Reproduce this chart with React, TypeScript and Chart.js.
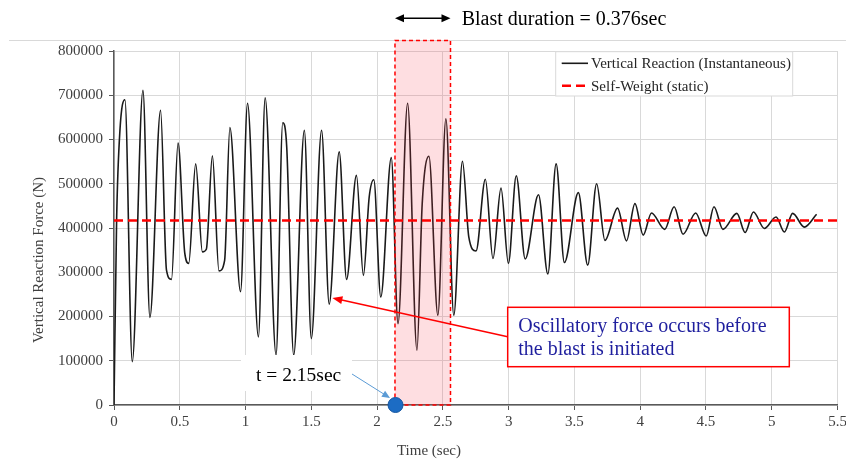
import React, { useEffect, useRef } from "react";
import { Chart, registerables } from "chart.js";

Chart.register(...registerables);

// ---- data ----
const reactionTimes = [
  0, 0.02, 0.045, 0.083, 0.139, 0.22, 0.273, 0.354, 0.399, 0.437, 0.487, 0.538, 0.568, 0.621, 0.672, 0.702, 0.748, 0.798, 0.841, 0.881, 0.962,
  1.015, 1.098, 1.149, 1.232, 1.283, 1.313, 1.366, 1.447, 1.5, 1.578, 1.636, 1.712, 1.768, 1.843, 1.896, 1.94, 1.975,
  2.028, 2.108, 2.159, 2.232, 2.303, 2.343, 2.394, 2.462, 2.523, 2.583, 2.649, 2.697, 2.752, 2.823, 2.881, 2.942, 2.998,
  3.058, 3.126, 3.227, 3.298, 3.361, 3.424, 3.53, 3.601, 3.669, 3.732, 3.828, 3.896, 3.96,
  4.023, 4.086, 4.187, 4.258, 4.326, 4.422, 4.502, 4.561, 4.629, 4.735, 4.798, 4.861, 4.944, 5.033, 5.096, 5.159, 5.248, 5.341,
];
const reactionForces = [
  0, 420000, 620000, 690000, 98000, 711000, 198000, 666000, 305000, 284000, 592000, 343000, 320000, 545000, 346000, 352000, 563000, 303000, 327000, 627000, 256000,
  682000, 154000, 694000, 113000, 638000, 583000, 113000, 621000, 150000, 621000, 228000, 572000, 284000, 519000, 293000, 470000, 509000,
  244000, 559000, 184000, 682000, 124000, 455000, 562000, 203000, 647000, 203000, 551000, 380000, 348000, 510000, 331000, 490000, 320000,
  518000, 330000, 475000, 296000, 545000, 322000, 480000, 316000, 500000, 372000, 445000, 371000, 455000,
  384000, 434000, 397000, 448000, 386000, 434000, 382000, 448000, 397000, 433000, 390000, 436000, 399000, 425000, 391000, 433000, 402000, 431000,
];
const selfWeightTimes = [0, 5.5];
const selfWeightForces = [417000, 417000];
const timeRange = [0, 5.5];
const forceRange = [0, 800000];
const timeStep = 0.5;
const forceStep = 100000;
const blastWindow = [2.136, 2.558];
const blastMarkerTimes = [2.14];
const blastMarkerForces = [0];
const calloutTarget = [1.66, 242000];

const seriesLabels = ["Vertical Reaction (Instantaneous)", "Self-Weight (static)"];
const xTitle = "Time (sec)";
const yTitle = "Vertical Reaction Force (N)";
const topNote = "Blast duration = 0.376sec";
const markerNote = "t = 2.15sec";
const calloutLines = ["Oscillatory force occurs before", "the blast is initiated"];

const SERIF = '"Liberation Serif", "Times New Roman", "DejaVu Serif", serif';

function arrowHead(ctx: CanvasRenderingContext2D, x1: number, y1: number, x2: number, y2: number, len: number, half: number, color: string) {
  const a = Math.atan2(y2 - y1, x2 - x1);
  ctx.save();
  ctx.fillStyle = color;
  ctx.beginPath();
  ctx.moveTo(x2, y2);
  ctx.lineTo(x2 - len * Math.cos(a) + half * Math.sin(a), y2 - len * Math.sin(a) - half * Math.cos(a));
  ctx.lineTo(x2 - len * Math.cos(a) - half * Math.sin(a), y2 - len * Math.sin(a) + half * Math.cos(a));
  ctx.closePath();
  ctx.fill();
  ctx.restore();
}

export default function App() {
  const ref = useRef<HTMLCanvasElement>(null);

  useEffect(() => {
    document.body.style.margin = "0";
    const canvas = ref.current!;

    const annot = {
      id: "annot",
      beforeDraw(chart: any) {
        const ctx: CanvasRenderingContext2D = chart.ctx;
        ctx.save();
        ctx.strokeStyle = "#d9d9d9";
        ctx.lineWidth = 1;
        ctx.beginPath();
        ctx.moveTo(9, 40.5);
        ctx.lineTo(846, 40.5);
        ctx.stroke();
        ctx.restore();
      },
      afterDatasetDraw(chart: any, args: any) {
        if (args.index !== 0) return;
        const ctx: CanvasRenderingContext2D = chart.ctx;
        const xs = chart.scales.x;
        const ys = chart.scales.y;
        const l = xs.getPixelForValue(blastWindow[0]);
        const r = xs.getPixelForValue(blastWindow[1]);
        const b = ys.getPixelForValue(0);
        const t = 40.5;
        ctx.save();
        ctx.fillStyle = "rgba(250, 60, 80, 0.17)";
        ctx.fillRect(l, t, r - l, b - t);
        ctx.strokeStyle = "#ff0000";
        ctx.lineWidth = 1.5;
        ctx.setLineDash([4, 3]);
        ctx.strokeRect(l, t, r - l, b - t);
        ctx.restore();
      },
      afterDraw(chart: any) {
        const ctx: CanvasRenderingContext2D = chart.ctx;
        const xs = chart.scales.x;
        const ys = chart.scales.y;
        ctx.save();

        // top note with double arrow
        const l = xs.getPixelForValue(blastWindow[0]);
        const r = xs.getPixelForValue(blastWindow[1]);
        ctx.strokeStyle = "#000";
        ctx.lineWidth = 1.5;
        ctx.beginPath();
        ctx.moveTo(l + 6, 18.3);
        ctx.lineTo(r - 6, 18.3);
        ctx.stroke();
        arrowHead(ctx, r, 18.3, l, 18.3, 9, 4, "#000");
        arrowHead(ctx, l, 18.3, r, 18.3, 9, 4, "#000");
        ctx.fillStyle = "#000";
        ctx.font = `20px ${SERIF}`;
        ctx.textBaseline = "alphabetic";
        ctx.textAlign = "left";
        ctx.fillText(topNote, 461.7, 25);

        // t = 2.15sec label with white background
        ctx.fillStyle = "#fff";
        ctx.fillRect(241, 355, 111, 36);
        ctx.fillStyle = "#000";
        ctx.font = `19.5px ${SERIF}`;
        ctx.fillText(markerNote, 256, 381);
        const mx = xs.getPixelForValue(blastMarkerTimes[0]);
        const my = ys.getPixelForValue(blastMarkerForces[0]);
        ctx.strokeStyle = "#5b9bd5";
        ctx.lineWidth = 1;
        ctx.beginPath();
        ctx.moveTo(352, 374);
        ctx.lineTo(mx - 7, my - 8);
        ctx.stroke();
        arrowHead(ctx, 352, 374, mx - 5.5, my - 7, 8, 3.5, "#5b9bd5");

        // callout arrow
        const tx = xs.getPixelForValue(calloutTarget[0]);
        const ty = ys.getPixelForValue(calloutTarget[1]);
        ctx.strokeStyle = "#ff0000";
        ctx.lineWidth = 1.5;
        ctx.beginPath();
        ctx.moveTo(507.7, 336.7);
        ctx.lineTo(tx + 6, ty + 1.4);
        ctx.stroke();
        arrowHead(ctx, 507.7, 336.7, tx, ty, 10, 4, "#ff0000");

        // callout box
        ctx.fillStyle = "#fff";
        ctx.fillRect(507.7, 307.3, 281.6, 59.4);
        ctx.strokeStyle = "#ff0000";
        ctx.lineWidth = 1.5;
        ctx.strokeRect(507.7, 307.3, 281.6, 59.4);
        ctx.fillStyle = "#1f1f9e";
        ctx.font = `20px ${SERIF}`;
        ctx.fillText(calloutLines[0], 518.3, 331.7);
        ctx.fillText(calloutLines[1], 518.3, 355);

        // legend
        ctx.fillStyle = "#fff";
        ctx.fillRect(555.7, 51.7, 237, 44.3);
        ctx.strokeStyle = "#d9d9d9";
        ctx.lineWidth = 1;
        ctx.strokeRect(555.7, 51.7, 237, 44.3);
        const ds = chart.data.datasets;
        ctx.strokeStyle = ds[0].borderColor;
        ctx.lineWidth = ds[0].borderWidth;
        ctx.beginPath();
        ctx.moveTo(561.7, 63.3);
        ctx.lineTo(588, 63.3);
        ctx.stroke();
        ctx.strokeStyle = ds[1].borderColor;
        ctx.lineWidth = ds[1].borderWidth;
        ctx.setLineDash(ds[1].borderDash);
        ctx.beginPath();
        ctx.moveTo(562, 85.7);
        ctx.lineTo(588, 85.7);
        ctx.stroke();
        ctx.setLineDash([]);
        ctx.fillStyle = "#262626";
        ctx.font = `15px ${SERIF}`;
        ctx.fillText(ds[0].label, 591, 67.7);
        ctx.fillText(ds[1].label, 591, 90.7);

        // axis titles
        ctx.fillStyle = "#404040";
        ctx.font = `15px ${SERIF}`;
        ctx.textAlign = "center";
        ctx.textBaseline = "middle";
        ctx.fillText(xTitle, 429, 451.5);
        ctx.save();
        ctx.translate(39.5, 260);
        ctx.rotate(-Math.PI / 2);
        ctx.fillText(yTitle, 0, 0);
        ctx.restore();

        ctx.restore();
      },
    };

    const chart = new Chart(canvas, {
      type: "line",
      data: {
        datasets: [
          {
            label: seriesLabels[0],
            data: reactionTimes.map((t, i) => ({ x: t, y: reactionForces[i] })),
            borderColor: "#1a1a1a",
            borderWidth: 1.6,
            pointRadius: 0,
            cubicInterpolationMode: "monotone",
            fill: false,
            order: 3,
          },
          {
            label: seriesLabels[1],
            data: selfWeightTimes.map((t, i) => ({ x: t, y: selfWeightForces[i] })),
            borderColor: "#ff0000",
            borderWidth: 2.5,
            borderDash: [9, 5],
            pointRadius: 0,
            fill: false,
            order: 2,
          },
          {
            label: "blast start",
            data: blastMarkerTimes.map((t, i) => ({ x: t, y: blastMarkerForces[i] })),
            showLine: false,
            pointRadius: 7.5,
            pointBackgroundColor: "#1c6cc4",
            pointBorderColor: "#1556a0",
            pointBorderWidth: 1,
            clip: false,
            order: 1,
          },
        ],
      },
      options: {
        animation: false,
        responsive: false,
        devicePixelRatio: 1,
        layout: { padding: { top: 51, right: 6, left: 0, bottom: 0 } },
        plugins: { legend: { display: false }, tooltip: { enabled: false } },
        scales: {
          x: {
            type: "linear",
            min: timeRange[0],
            max: timeRange[1],
            ticks: {
              stepSize: timeStep,
              autoSkip: false,
              maxRotation: 0,
              padding: 3,
              color: "#404040",
              font: { family: SERIF, size: 15 },
              callback: (v: any) => String(Math.round(Number(v) * 10) / 10),
            },
            grid: { color: "#d9d9d9", lineWidth: 1, tickColor: "#595959", tickLength: 5 },
            border: { color: "#595959", width: 1.5 },
            afterFit: (s: any) => {
              s.height = 59;
              s.paddingLeft = 0;
              s.paddingRight = 0;
            },
          },
          y: {
            type: "linear",
            min: forceRange[0],
            max: forceRange[1],
            ticks: {
              stepSize: forceStep,
              padding: 6,
              color: "#404040",
              font: { family: SERIF, size: 15 },
              callback: (v: any) => String(v),
            },
            grid: { color: "#d9d9d9", lineWidth: 1, tickColor: "#595959", tickLength: 5 },
            border: { color: "#595959", width: 1.5 },
            afterFit: (s: any) => {
              s.width = 114;
              s.paddingTop = 0;
              s.paddingBottom = 0;
            },
          },
        },
      },
      plugins: [annot],
    } as any);

    return () => chart.destroy();
  }, []);

  return (
    <div style={{ position: "fixed", left: 0, top: 0, width: 846, height: 464, background: "#fff" }}>
      <canvas ref={ref} width={846} height={464} style={{ width: 846, height: 464, display: "block" }} />
    </div>
  );
}
